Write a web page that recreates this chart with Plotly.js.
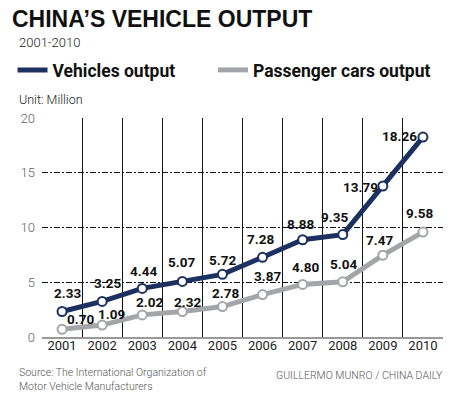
<!DOCTYPE html>
<html><head><meta charset="utf-8">
<script src="https://cdn.plot.ly/plotly-3.0.1.min.js"></script>
<style>html,body{margin:0;padding:0;background:#fff}</style>
</head><body>
<div id="chart" style="width:459px;height:397px"></div>
<script>
const years = [2001, 2002, 2003, 2004, 2005, 2006, 2007, 2008, 2009, 2010];
const vehicles = [2.33, 3.25, 4.44, 5.07, 5.72, 7.28, 8.88, 9.35, 13.79, 18.26];
const passengerCars = [0.70, 1.09, 2.02, 2.32, 2.78, 3.87, 4.80, 5.04, 7.47, 9.58];
const yTicks = [0, 5, 10, 15, 20];

const NAVY = '#1c3160';
const GRAY = '#a3a5a8';
// label offsets (px) relative to each point
const vehDx = [5, 5, 1, -1, 0, -2, -2, -8, -22, -23];
const vehDy = [18, 18, 17, 19, 14, 18, 16, 18, -1, 1];
const carDx = [18, 9, 7, 5, 3, 5, 3, 1, -3, -3];
const carDy = [10, 11, 13, 10, 14, 19, 17, 18, 15, 19];
const boundaries = years.slice(0, -1).map(y => y + 0.5);

const traces = [
  {x: years, y: passengerCars, type: 'scatter', mode: 'lines+markers', cliponaxis: false,
   line: {color: GRAY, width: 5},
   marker: {size: 9, color: '#fff', line: {color: GRAY, width: 2}},
   showlegend: false, hoverinfo: 'skip'},
  {x: years, y: vehicles, type: 'scatter', mode: 'lines+markers', cliponaxis: false,
   line: {color: NAVY, width: 5},
   marker: {size: 9, color: '#fff', line: {color: NAVY, width: 2}},
   showlegend: false, hoverinfo: 'skip'},
  {x: [null], y: [null], type: 'scatter', mode: 'lines', name: 'Vehicles output', legend: 'legend',
   line: {color: NAVY, width: 5}, showlegend: true},
  {x: [null], y: [null], type: 'scatter', mode: 'lines', name: 'Passenger cars output', legend: 'legend2',
   line: {color: GRAY, width: 5}, showlegend: true},
  {x: boundaries, y: boundaries.map(() => null), xaxis: 'x2', type: 'scatter', mode: 'markers',
   showlegend: false, hoverinfo: 'skip'}
];

const L = 35, R = 443, T = 118, B = 337;
const W = R - L, H = B - T;
const px = p => (p - L) / W;
const py = p => (B - p) / H;

const labelFont = {family: 'Roboto', size: 13.5, color: '#111', weight: 700};
const valueLabels = [];
years.forEach((yr, i) => {
  valueLabels.push({x: yr, y: vehicles[i], text: vehicles[i].toFixed(2), showarrow: false,
    xshift: vehDx[i], yshift: vehDy[i], xanchor: 'center', yanchor: 'middle', font: labelFont});
  valueLabels.push({x: yr, y: passengerCars[i], text: passengerCars[i].toFixed(2), showarrow: false,
    xshift: carDx[i], yshift: carDy[i], xanchor: 'center', yanchor: 'middle', font: labelFont});
});

const legendFont = {family: 'Roboto', size: 17.5, color: '#111', weight: 700};

const layout = {
  width: 459, height: 397,
  margin: {l: L, r: 459 - R, t: T, b: 397 - B, pad: 0},
  paper_bgcolor: '#fff', plot_bgcolor: '#fff',
  font: {family: 'Roboto', color: '#222'},
  title: {text: 'CHINA\u2019S VEHICLE OUTPUT', x: 12 / 459, xanchor: 'left', y: 1 - 19 / 397, yanchor: 'middle',
          font: {family: 'Liberation Sans', size: 23, color: '#111', weight: 900}},
  xaxis: {range: [2000.5, 2010.5], tickvals: years, ticktext: years.map(String), showgrid: false,
          zeroline: false, showline: true, linecolor: '#999', linewidth: 1.5, ticks: '', ticklabelstandoff: -4,
          tickfont: {family: 'Roboto', size: 13, color: '#222'}, fixedrange: true},
  xaxis2: {overlaying: 'x', matches: 'x', range: [2000.5, 2010.5], tickvals: boundaries, showticklabels: false,
           showgrid: true, gridcolor: '#111', gridwidth: 1, zeroline: false, showline: false, ticks: ''},
  yaxis: {range: [0, 20], tickvals: yTicks, showgrid: true, gridcolor: '#111', gridwidth: 1,
          griddash: '6px,2px,2px,2px', zeroline: false, showline: false, ticks: '', ticklabelstandoff: 6,
          tickfont: {family: 'Roboto', size: 13, color: '#5b5e70', weight: 300}},
  legend: {orientation: 'h', x: px(5), xanchor: 'left', y: py(70), yanchor: 'middle',
           font: legendFont, bgcolor: 'rgba(0,0,0,0)', itemclick: false},
  legend2: {orientation: 'h', x: px(209), xanchor: 'left', y: py(70), yanchor: 'middle',
           font: legendFont, bgcolor: 'rgba(0,0,0,0)', itemclick: false},
  annotations: valueLabels.concat([
    {text: '2001-2010', xref: 'paper', yref: 'paper', x: px(10), y: py(42), xanchor: 'left', yanchor: 'middle',
     showarrow: false, font: {family: 'Roboto', size: 13, color: '#222', weight: 300}},
    {text: 'Unit: Million', xref: 'paper', yref: 'paper', x: px(10), y: py(100), xanchor: 'left', yanchor: 'middle',
     showarrow: false, font: {family: 'Roboto', size: 12.5, color: '#222', weight: 300}},
    {text: 'Source: The International Organization of<br>Motor Vehicle Manufacturers', xref: 'paper', yref: 'paper',
     x: px(10), y: py(379), xanchor: 'left', yanchor: 'middle', align: 'left', showarrow: false,
     font: {family: 'Roboto', size: 10.5, color: '#555', weight: 300}},
    {text: 'GUILLERMO MUNRO / CHINA DAILY', xref: 'paper', yref: 'paper', x: px(445), y: py(375),
     xanchor: 'right', yanchor: 'middle', showarrow: false, font: {family: 'Roboto', size: 10.5, color: '#555', weight: 300}}
  ])
};

Plotly.newPlot('chart', traces, layout, {staticPlot: true, displayModeBar: false});
</script>
</body></html>
